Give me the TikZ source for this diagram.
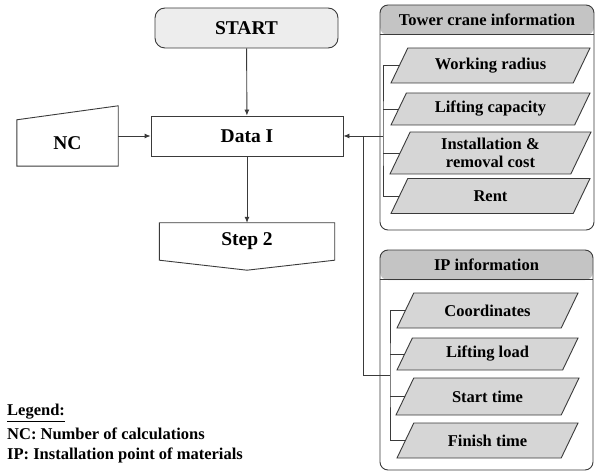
\documentclass[tikz,border=0pt]{standalone}
\usepackage{fontspec}
\setmainfont{Liberation Serif}
\usetikzlibrary{arrows.meta,calc}
\definecolor{linegray}{HTML}{3A3A3A}
\definecolor{startfill}{HTML}{EDEDED}
\definecolor{headfill}{HTML}{C4C4C4}
\definecolor{parafill}{HTML}{D6D6D6}
% slanted data box: name, x, y, width, height, text
\newcommand\parabox[6]{%
  \path[line, fill=parafill]
    ({#2-#4/2},{#3+#5/2}) -- ({#2-#4/2+#5*0.48},{#3-#5/2})
    -- ({#2+#4/2},{#3-#5/2}) -- ({#2+#4/2-#5*0.48},{#3+#5/2}) -- cycle;
  \node[small, align=center, inner sep=0pt, minimum width=#4pt, minimum height=#5pt] (#1) at (#2,#3) {#6};
  \coordinate (#1-w) at ({#2-#4/2+#5*0.24},#3);
}
\begin{document}
\begin{tikzpicture}[x=1pt,y=-1pt,
  big/.style={font=\fontsize{19.5}{22}\selectfont\bfseries},
  small/.style={font=\fontsize{16.5}{18}\selectfont\bfseries},
  line/.style={draw=linegray, line width=0.9pt},
  arr/.style={line, -{Latex[length=6pt,width=5pt]}},
  procbox/.style={line, rectangle, inner sep=0pt, big},
  panel/.style={line, rectangle, rounded corners=8pt, inner sep=0pt,
    path picture={\fill[headfill] (path picture bounding box.north west)
      rectangle ([yshift=-30pt]path picture bounding box.north east);}},
  legend/.style={anchor=west, inner sep=0pt, small},
]
\useasboundingbox (0,0) rectangle (597,473);

% main flow
\node[procbox, rounded corners=10pt, fill=startfill, minimum width=183pt, minimum height=40pt] (start) at (246.5,28) {START};
\node[procbox, minimum width=192pt, minimum height=40pt] (data) at (247,136) {Data I};

% manual input: number of calculations
\node[big, rectangle, inner sep=0pt, minimum width=101pt, minimum height=46pt] (nc) at (67.5,143) {NC};
\draw[line] (nc.north west) -- ($(nc.north east)+(0,-14)$) -- (nc.south east) -- (nc.south west) -- cycle;

% off-page connector to step 2
\node[big, rectangle, inner sep=0pt, minimum width=175pt, minimum height=37pt] (step2) at (247,241.5) {Step 2};
\draw[line] (step2.south west) -- (step2.north west) -- (step2.north east) -- (step2.south east)
  -- ($(step2.south)+(0,10)$) -- cycle;

\draw[arr] (start) -- (data);
\draw[arr] (data.west -| nc.east) -- (data.west);
\draw[arr] (data.south) -- (step2.north);

% tower crane panel
\node[panel, minimum width=214pt, minimum height=225pt] (tcbox) at (487,117.5) {};
\draw[line] ([yshift=-30pt]tcbox.north west) -- ([yshift=-30pt]tcbox.north east);
\node[small] (tchead) at (487,20) {Tower crane information};
\parabox{wr}{490.5}{65.5}{199}{35}{Working radius}
\parabox{lc}{490.5}{109}{199}{32}{Lifting capacity}
\parabox{inst}{490.5}{153}{201}{42}{Installation \&\\removal cost}
\parabox{rent}{490.5}{196}{199}{35}{Rent}

% installation point panel
\node[panel, minimum width=213pt, minimum height=220pt] (ipbox) at (486.5,360) {};
\draw[line] ([yshift=-30pt]ipbox.north west) -- ([yshift=-30pt]ipbox.north east);
\node[small] (iphead) at (486.5,265) {IP information};
\parabox{co}{487.5}{310.5}{181}{35}{Coordinates}
\parabox{ll}{487.5}{354}{181}{32}{Lifting load}
\parabox{st}{487.5}{396.5}{183}{37}{Start time}
\parabox{fin}{487.5}{440.5}{181}{35}{Finish time}

% brackets and data links
\coordinate (tcbus) at (383,136);
\coordinate (ipbus) at (390,375);
\coordinate (join) at (363,136);
\draw[line] (wr-w) -| (tcbus) |- (rent-w);
\draw[line] (lc-w) -- (lc-w -| tcbus);
\draw[line] (inst-w) -- (inst-w -| tcbus);
\draw[arr] (tcbus) -- (data.east);
\draw[line] (co-w) -| (ipbus) |- (fin-w);
\draw[line] (ll-w) -- (ll-w -| ipbus);
\draw[line] (st-w) -- (st-w -| ipbus);
\draw[line] (ipbus) -| (join);

% legend
\node[legend] (leg) at (7,413) {\underline{Legend:}};
\node[legend] (legnc) at (7,434) {NC: Number of calculations};
\node[legend] (legip) at (7,455) {IP: Installation point of materials};
\end{tikzpicture}
\end{document}
